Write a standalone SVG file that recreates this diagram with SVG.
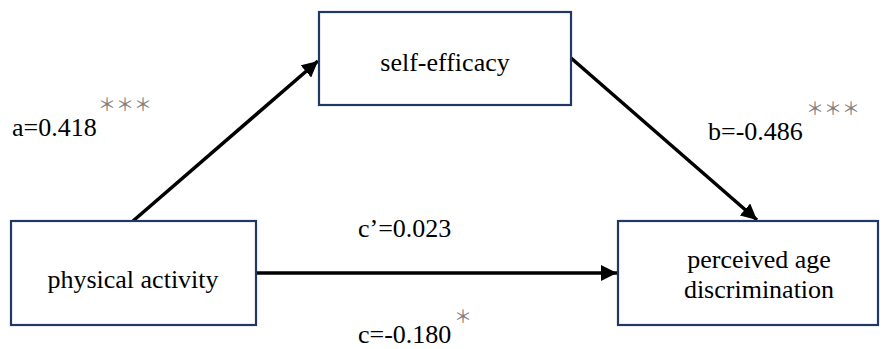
<svg xmlns="http://www.w3.org/2000/svg" width="889" height="349" viewBox="0 0 889 349">
  <style>
    .box { fill: #ffffff; stroke: #1f3864; stroke-width: 2.2; }
    .lbl { font-family: 'Liberation Serif', 'Times New Roman', serif; font-size: 26px; fill: #000000; }
    .star { font-family: 'Noto Sans CJK SC', 'DejaVu Sans', sans-serif; font-size: 18px; fill: #808080; }
    .edge { stroke: #000000; stroke-width: 3.5; fill: none; marker-end: url(#arrow); }
  </style>
  <defs>
    <marker id="arrow" markerUnits="userSpaceOnUse" markerWidth="17" markerHeight="16" refX="16" refY="8" orient="auto">
      <path d="M0,0 L16,8 L0,16 Z" fill="#000000"/>
    </marker>
  </defs>
  <rect width="889" height="349" fill="#ffffff"/>
  <g id="connectors">
    <line class="edge" x1="133" y1="221" x2="318" y2="61"/>
    <line class="edge" x1="571" y1="58" x2="757" y2="220"/>
    <line class="edge" x1="256" y1="273" x2="617" y2="273"/>
  </g>
  <g id="self-efficacy">
    <rect class="box" x="319" y="12" width="252" height="93"/>
    <text class="lbl" x="445" y="71" text-anchor="middle">self-efficacy</text>
  </g>
  <g id="physical-activity">
    <rect class="box" x="11" y="221" width="245" height="104"/>
    <text class="lbl" x="133" y="288" text-anchor="middle">physical activity</text>
  </g>
  <g id="perceived-age-discrimination">
    <rect class="box" x="618" y="221" width="260" height="104"/>
    <text class="lbl" x="759" y="268" text-anchor="middle">perceived age</text>
    <text class="lbl" x="759" y="298" text-anchor="middle">discrimination</text>
  </g>
  <g id="labels">
    <text class="lbl" x="12" y="136">a=0.418</text>
    <text class="star" x="98" y="111">＊＊＊</text>
    <text class="lbl" x="708" y="140">b=-0.486</text>
    <text class="star" x="806" y="115">＊＊＊</text>
    <text class="lbl" x="358" y="237">c’=0.023</text>
    <text class="lbl" x="358" y="343">c=-0.180</text>
    <text class="star" x="454" y="323">＊</text>
  </g>
</svg>
